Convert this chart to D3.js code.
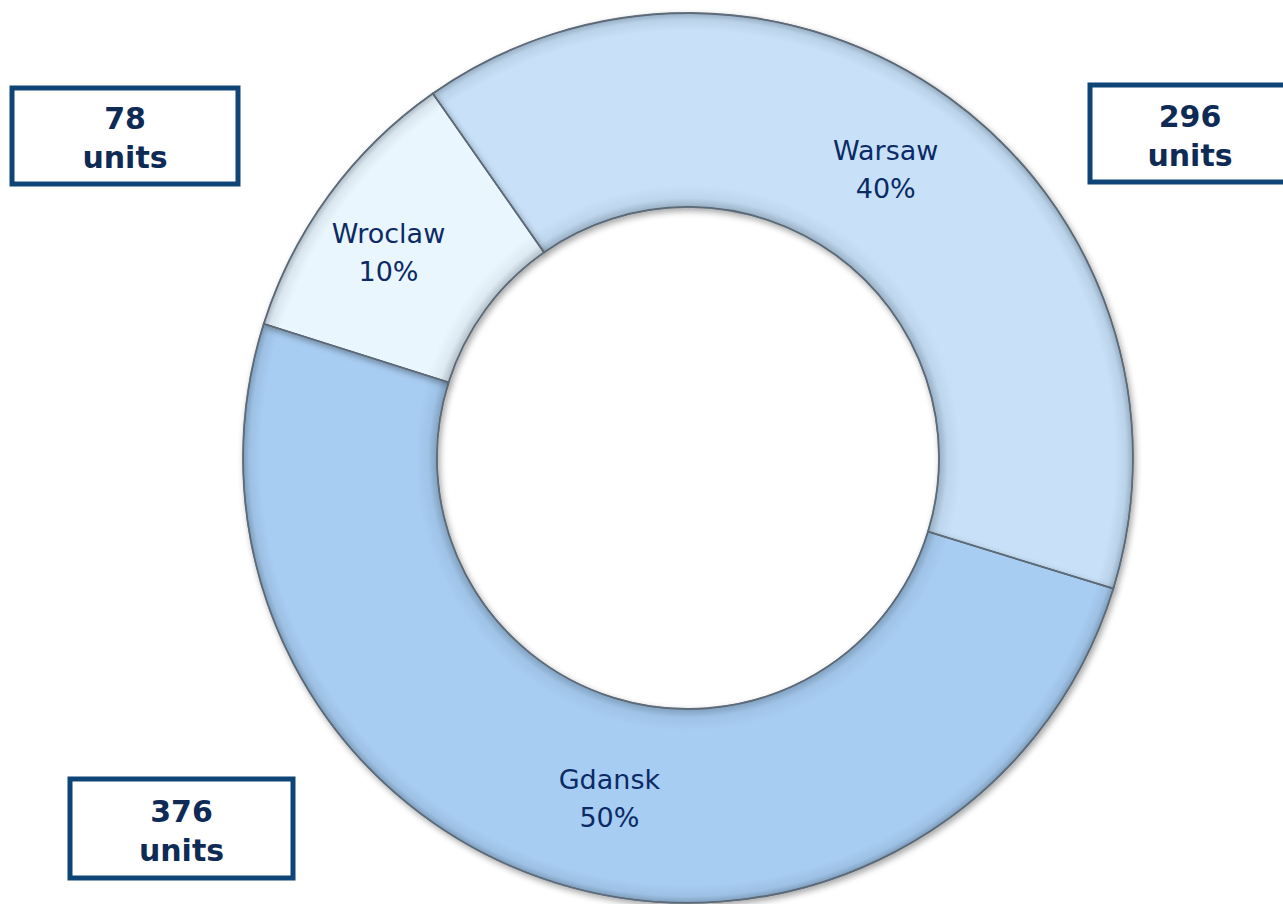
<!DOCTYPE html>
<html>
<head>
<meta charset="utf-8">
<script src="https://cdn.jsdelivr.net/npm/d3@7"></script>
<style>
  html, body { margin: 0; padding: 0; background: #fff; }
  svg { display: block; }
</style>
</head>
<body>
<svg id="chart" width="1283" height="904"></svg>
<script>
// data
const cities = ["Warsaw", "Gdansk", "Wroclaw"];
const units = [296, 376, 78];
const shares = ["40%", "50%", "10%"];
const colors = ["#c8e1f8", "#a8cdf2", "#eaf6fe"];
// small label nudges (px) to sit where the original put them
const labelNudge = [[-7, -8], [25, 8], [-19, 0]];

// annotation boxes (one per city)
const boxes = [
  { city: "Warsaw", x: 1090, y: 85, w: 200, h: 97 },
  { city: "Gdansk", x: 70, y: 779, w: 223, h: 99 },
  { city: "Wroclaw", x: 12, y: 88, w: 226, h: 96 }
];

const svg = d3.select("#chart");
const cx = 688, cy = 458, rOuter = 445, rInner = 251;

const defs = svg.append("defs");
const shadow = defs.append("filter")
  .attr("id", "shadow")
  .attr("x", "-10%").attr("y", "-10%")
  .attr("width", "120%").attr("height", "120%");
shadow.append("feDropShadow")
  .attr("dx", 2).attr("dy", 3)
  .attr("stdDeviation", 3)
  .attr("flood-color", "#000")
  .attr("flood-opacity", 0.35);

// bevel: darken the ring close to its inner and outer rims
const bevel = defs.append("radialGradient")
  .attr("id", "bevel")
  .attr("gradientUnits", "userSpaceOnUse")
  .attr("cx", 0).attr("cy", 0).attr("r", rOuter);
const k = rInner / rOuter;
[[k, 0.28], [k + 0.02, 0.06], [k + 0.05, 0], [0.96, 0], [0.985, 0.08], [1, 0.3]]
  .forEach(([o, a]) => bevel.append("stop")
    .attr("offset", o)
    .attr("stop-color", "#1c2c3c")
    .attr("stop-opacity", a));

const slices = cities.map((c, i) => ({ city: c, value: units[i], share: shares[i], color: colors[i], nudge: labelNudge[i] }));

const pie = d3.pie()
  .value(d => d.value)
  .sort(null)
  .startAngle(-35 * Math.PI / 180)
  .endAngle(325 * Math.PI / 180);

const arc = d3.arc().innerRadius(rInner).outerRadius(rOuter);

const g = svg.append("g").attr("transform", `translate(${cx},${cy})`);

// slices
g.selectAll(".slice")
  .data(pie(slices))
  .join("path")
  .attr("class", "slice")
  .attr("d", arc)
  .attr("fill", d => d.data.color)
  .attr("stroke", "#6f7c89")
  .attr("stroke-width", 1.8)
  .attr("filter", "url(#shadow)");

// bevel overlay
g.selectAll(".bevel")
  .data(pie(slices))
  .join("path")
  .attr("class", "bevel")
  .attr("d", arc)
  .attr("fill", "url(#bevel)")
  .attr("stroke", "#5d6a77")
  .attr("stroke-width", 1.2);

// slice labels
const label = g.selectAll(".label")
  .data(pie(slices))
  .join("text")
  .attr("class", "label")
  .attr("transform", d => {
    const [x, y] = arc.centroid(d);
    return `translate(${x + d.data.nudge[0]},${y + d.data.nudge[1]})`;
  })
  .attr("text-anchor", "middle")
  .attr("font-family", "DejaVu Sans, Verdana, sans-serif")
  .attr("font-size", 27)
  .attr("fill", "#0b2a66");

label.append("tspan")
  .attr("x", 0).attr("y", -9)
  .text(d => d.data.city);
label.append("tspan")
  .attr("x", 0).attr("y", 29)
  .text(d => d.data.share);

// unit boxes
const box = svg.selectAll(".box")
  .data(boxes)
  .join("g")
  .attr("class", "box")
  .attr("transform", d => `translate(${d.x},${d.y})`);

box.append("rect")
  .attr("width", d => d.w)
  .attr("height", d => d.h)
  .attr("fill", "#fff")
  .attr("stroke", "#0f4477")
  .attr("stroke-width", 5);

const boxText = box.append("text")
  .attr("text-anchor", "middle")
  .attr("font-family", "DejaVu Sans, Verdana, sans-serif")
  .attr("font-weight", "bold")
  .attr("font-size", 30)
  .attr("fill", "#0d2b55");

boxText.append("tspan")
  .attr("x", d => d.w / 2).attr("y", d => d.h / 2 - 7)
  .text(d => units[cities.indexOf(d.city)]);
boxText.append("tspan")
  .attr("x", d => d.w / 2).attr("y", d => d.h / 2 + 32)
  .text("units");
</script>
</body>
</html>
